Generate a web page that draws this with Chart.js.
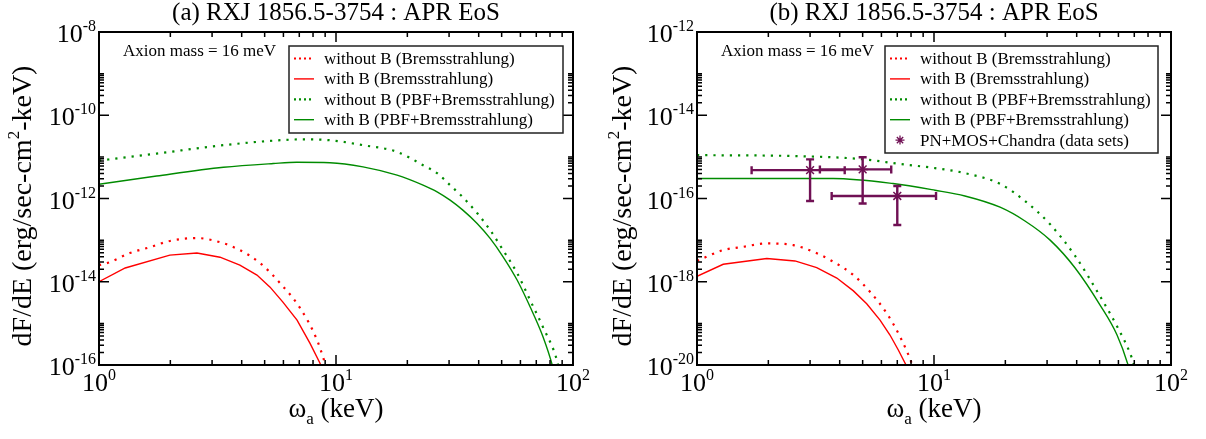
<!DOCTYPE html>
<html lang="en">
<head>
    <meta charset="UTF-8">
    <title>RXJ 1856.5-3754 : APR EoS</title>
    <script src="https://cdn.jsdelivr.net/npm/chart.js"></script>
    <style>
        body {
            margin: 0;
            background: #fff;
        }
        .panel {
            position: absolute;
            top: 0;
            width: 603px;
            height: 439px;
        }
    </style>
</head>
<body>
    <div class="panel" style="left:0"><canvas id="chartA" width="603" height="439"></canvas></div>
    <div class="panel" style="left:603px"><canvas id="chartB" width="603" height="439"></canvas></div>

    <script>
        // ---- panel (a) ----
        const xRedDotA = [1, 1.11, 1.35, 1.64, 1.99, 2.59, 3.24, 3.93, 4.78, 5.80, 7.05, 8.32, 8.99, 9.2];
        const yRedDotA = [2.51e-14, 2.95e-14, 4.90e-14, 6.76e-14, 9.55e-14, 1.12e-13, 8.91e-14, 5.75e-14, 2.82e-14, 9.33e-15, 2.34e-15, 3.98e-16, 1.10e-16, 7.4e-17];
        const xRedSolA = [1, 1.29, 1.99, 2.59, 3.24, 3.93, 4.64, 5.27, 5.97, 6.85, 7.77, 8.56, 8.8];
        const yRedSolA = [1.0e-14, 2.14e-14, 4.37e-14, 4.90e-14, 3.89e-14, 2.51e-14, 1.45e-14, 7.41e-15, 3.24e-15, 1.20e-15, 3.31e-16, 1.10e-16, 7e-17];
        const xGrnDotA = [1, 1.75, 3.35, 5.44, 7.2, 9.43, 13.0, 18.1, 23.3, 26.7, 30.3, 34.3, 39.4, 44.7, 50.7, 58.1, 65.9, 74.7, 85.5, 88];
        const yGrnDotA = [8.13e-12, 1.20e-11, 1.91e-11, 2.45e-11, 2.63e-11, 2.51e-11, 1.91e-11, 1.32e-11, 6.31e-12, 4.07e-12, 2.09e-12, 1.07e-12, 4.47e-13, 1.74e-13, 5.75e-14, 1.62e-14, 3.63e-15, 8.13e-16, 1.32e-16, 6.3e-17];
        const xGrnSolA = [1, 1.75, 3.35, 5.44, 6.83, 9.43, 13.0, 18.1, 23.3, 26.7, 30.3, 34.3, 39.4, 44.7, 50.7, 58.1, 65.9, 74.7, 81.9, 84];
        const yGrnSolA = [2.19e-12, 3.47e-12, 5.62e-12, 6.92e-12, 7.41e-12, 7.24e-12, 5.75e-12, 3.63e-12, 2.09e-12, 1.45e-12, 9.12e-13, 5.25e-13, 2.51e-13, 1.10e-13, 3.98e-14, 1.10e-14, 2.51e-15, 4.79e-16, 9.55e-17, 5.0e-17];

        // ---- panel (b) ----
        const xRedDotB = [1, 1.29, 1.57, 1.97, 2.55, 3.10, 3.76, 4.57, 5.37, 6.32, 7.19, 8.05, 8.3];
        const yRedDotB = [3.16e-18, 5.75e-18, 6.92e-18, 8.32e-18, 7.59e-18, 5.25e-18, 3.02e-18, 1.45e-18, 5.75e-19, 1.74e-19, 4.79e-20, 1.10e-20, 6.3e-21];
        const xRedSolB = [1, 1.29, 1.97, 2.59, 3.20, 3.89, 4.57, 5.20, 5.92, 6.52, 7.07, 7.62, 7.8];
        const yRedSolB = [1.35e-18, 2.63e-18, 3.63e-18, 3.16e-18, 2.19e-18, 1.23e-18, 6.03e-19, 2.95e-19, 1.20e-19, 5.25e-20, 2.29e-20, 1.0e-20, 6.3e-21];
        const xGrnDotB = [1, 2.5, 4.87, 7.19, 10.1, 13.5, 19.0, 24.2, 30.9, 39.4, 50.2, 59.2, 67.2, 69.8, 72];
        const yGrnDotB = [1.10e-15, 1.05e-15, 8.91e-16, 6.76e-16, 5.37e-16, 4.07e-16, 2.24e-16, 8.71e-17, 2.40e-17, 4.17e-18, 4.47e-19, 8.51e-20, 1.91e-20, 1.0e-20, 5e-21];
        const xGrnSolB = [1, 3.75, 6.71, 10.1, 13.5, 19.0, 24.2, 30.9, 39.4, 50.2, 59.2, 65.9, 68];
        const yGrnSolB = [3.02e-16, 3.02e-16, 2.29e-16, 1.58e-16, 1.15e-16, 6.17e-17, 2.88e-17, 1.0e-17, 2.14e-18, 2.75e-19, 5.25e-20, 1.0e-20, 5e-21];

        // PN+MOS+Chandra points with error bars
        const pnX = [3.0, 5.0, 7.0];
        const pnY = [4.8e-16, 5.0e-16, 1.15e-16];
        const pnXLow = [1.7, 3.3, 3.7];
        const pnXHigh = [4.2, 6.6, 10.2];
        const pnYLow = [8.7e-17, 7.6e-17, 2.3e-17];
        const pnYHigh = [8.7e-16, 9.8e-16, 2.0e-16];

        const labels = [
            "without B (Bremsstrahlung)",
            "with B (Bremsstrahlung)",
            "without B (PBF+Bremsstrahlung)",
            "with B (PBF+Bremsstrahlung)",
            "PN+MOS+Chandra (data sets)"
        ];

        const FONT = '"Liberation Serif", "Times New Roman", serif';
        const RED = "rgb(255,0,0)";
        const GREEN = "rgb(0,139,0)";
        const PURPLE = "rgb(112,16,84)";
        const DOTS = [2.2, 6];

        function pts(xs, ys) {
            return xs.map((x, i) => ({ x: x, y: ys[i] }));
        }

        function curve(label, xs, ys, color, dotted, smooth) {
            return {
                label: label,
                data: pts(xs, ys),
                showLine: true,
                borderColor: color,
                borderWidth: dotted ? 2.2 : 1.4,
                borderDash: dotted ? DOTS : [],
                pointRadius: 0,
                cubicInterpolationMode: smooth ? "monotone" : "default",
                tension: 0
            };
        }

        // draw a string made of [text, size, rise] parts
        function drawRich(ctx, parts, x, y, align) {
            let w = 0;
            parts.forEach(p => {
                ctx.font = p[1] + "px " + FONT;
                w += ctx.measureText(p[0]).width;
            });
            let cx = align === "center" ? x - w / 2 : (align === "right" ? x - w : x);
            ctx.textAlign = "left";
            ctx.textBaseline = "alphabetic";
            parts.forEach(p => {
                ctx.font = p[1] + "px " + FONT;
                ctx.fillText(p[0], cx, y - (p[2] || 0));
                cx += ctx.measureText(p[0]).width;
            });
        }

        function drawStar(ctx, x, y, r) {
            ctx.beginPath();
            for (let k = 0; k < 4; k++) {
                const a = k * Math.PI / 4;
                ctx.moveTo(x - r * Math.cos(a), y - r * Math.sin(a));
                ctx.lineTo(x + r * Math.cos(a), y + r * Math.sin(a));
            }
            ctx.stroke();
        }

        const decor = {
            id: "decor",
            afterDatasetsDraw(chart, args, opts) {
                if (!opts.errors) return;
                const ctx = chart.ctx, xs = chart.scales.x, ys = chart.scales.y;
                const e = opts.errors;
                ctx.save();
                ctx.strokeStyle = PURPLE;
                ctx.lineWidth = 2.4;
                e.x.forEach((v, i) => {
                    const px = xs.getPixelForValue(v), py = ys.getPixelForValue(e.y[i]);
                    const x0 = xs.getPixelForValue(e.xLow[i]), x1 = xs.getPixelForValue(e.xHigh[i]);
                    const y0 = ys.getPixelForValue(e.yLow[i]), y1 = ys.getPixelForValue(e.yHigh[i]);
                    ctx.beginPath();
                    ctx.moveTo(x0, py); ctx.lineTo(x1, py);
                    ctx.moveTo(x0, py - 4); ctx.lineTo(x0, py + 4);
                    ctx.moveTo(x1, py - 4); ctx.lineTo(x1, py + 4);
                    ctx.moveTo(px, y0); ctx.lineTo(px, y1);
                    ctx.moveTo(px - 4, y0); ctx.lineTo(px + 4, y0);
                    ctx.moveTo(px - 4, y1); ctx.lineTo(px + 4, y1);
                    ctx.stroke();
                });
                ctx.restore();
            },
            afterDraw(chart, args, opts) {
                const ctx = chart.ctx, a = chart.chartArea;
                const xs = chart.scales.x, ys = chart.scales.y;
                ctx.save();
                ctx.fillStyle = "#000";
                ctx.strokeStyle = "#000";

                // ticks on all four sides, pointing inward
                ctx.lineWidth = 1.5;
                ctx.beginPath();
                const x0 = Math.round(Math.log10(xs.min)), x1 = Math.round(Math.log10(xs.max));
                for (let e = x0; e <= x1; e++) {
                    const px = xs.getPixelForValue(Math.pow(10, e));
                    ctx.moveTo(px, a.bottom); ctx.lineTo(px, a.bottom - 10);
                    ctx.moveTo(px, a.top); ctx.lineTo(px, a.top + 10);
                    if (e === x1) continue;
                    for (let k = 2; k <= 9; k++) {
                        const q = xs.getPixelForValue(k * Math.pow(10, e));
                        ctx.moveTo(q, a.bottom); ctx.lineTo(q, a.bottom - 5);
                        ctx.moveTo(q, a.top); ctx.lineTo(q, a.top + 5);
                    }
                }
                const y0 = Math.round(Math.log10(ys.min)), y1 = Math.round(Math.log10(ys.max));
                for (let e = y0; e <= y1; e += 2) {
                    const py = ys.getPixelForValue(Math.pow(10, e));
                    ctx.moveTo(a.left, py); ctx.lineTo(a.left + 10, py);
                    ctx.moveTo(a.right, py); ctx.lineTo(a.right - 10, py);
                    if (e === y1) continue;
                    for (let k = 2; k <= 10; k++) {
                        const q = ys.getPixelForValue(k * Math.pow(10, e));
                        ctx.moveTo(a.left, q); ctx.lineTo(a.left + 5, q);
                        ctx.moveTo(a.right, q); ctx.lineTo(a.right - 5, q);
                    }
                }
                ctx.stroke();

                // frame
                ctx.lineWidth = 2;
                ctx.strokeRect(a.left, a.top, a.right - a.left, a.bottom - a.top);

                // tick labels
                for (let e = x0; e <= x1; e++) {
                    const px = xs.getPixelForValue(Math.pow(10, e));
                    drawRich(ctx, [["10", 26], [String(e), 16, 11]], px, a.bottom + 26, "center");
                }
                for (let e = y0; e <= y1; e += 2) {
                    const py = ys.getPixelForValue(Math.pow(10, e));
                    drawRich(ctx, [["10", 26], [String(e), 16, 11]], a.left - 3, py + 10, "right");
                }

                // title and axis titles
                const cx = (a.left + a.right) / 2;
                drawRich(ctx, [[opts.title, 25]], cx, 20, "center");
                drawRich(ctx, [["\u03c9", 27], ["a", 17, -7], [" (keV)", 27]], cx, a.bottom + 52, "center");
                ctx.save();
                ctx.translate(opts.yTitleX, 206);
                ctx.rotate(-Math.PI / 2);
                drawRich(ctx, [["dF/dE (erg/sec-cm", 28], ["2", 17, 12], ["-keV)", 28]], 0, 9, "center");
                ctx.restore();

                // annotation
                drawRich(ctx, [["Axion mass = 16 meV", 17]], a.left + 24, 56, "left");

                // legend
                const L = opts.legend;
                const rows = chart.data.datasets.filter(d => d.label);
                ctx.fillStyle = "#fff";
                ctx.fillRect(L.x, L.y, L.w, L.h);
                ctx.lineWidth = 1.5;
                ctx.strokeStyle = "#222";
                ctx.strokeRect(L.x, L.y, L.w, L.h);
                rows.forEach((d, i) => {
                    const ry = L.y + 12.5 + i * 20.4;
                    ctx.strokeStyle = d.borderColor;
                    if (d.showLine) {
                        ctx.lineWidth = d.borderWidth;
                        ctx.setLineDash(d.borderDash.length ? [2, 3] : []);
                        ctx.beginPath();
                        ctx.moveTo(L.x + 5, ry); ctx.lineTo(L.x + 25, ry);
                        ctx.stroke();
                        ctx.setLineDash([]);
                    } else {
                        ctx.lineWidth = 1.3;
                        drawStar(ctx, L.x + 15, ry, 4.5);
                    }
                    ctx.fillStyle = "#000";
                    drawRich(ctx, [[d.label, 17]], L.x + 35, ry + 5.5, "left");
                });
                ctx.restore();
            }
        };

        function makeChart(id, datasets, yMin, yMax, pad, opts) {
            return new Chart(document.getElementById(id), {
                type: "scatter",
                data: { datasets: datasets },
                options: {
                    responsive: false,
                    devicePixelRatio: 1,
                    animation: false,
                    layout: { padding: pad },
                    scales: {
                        x: { type: "logarithmic", min: 1, max: 100, display: false },
                        y: { type: "logarithmic", min: yMin, max: yMax, display: false }
                    },
                    plugins: {
                        legend: { display: false },
                        tooltip: { enabled: false },
                        decor: opts
                    }
                },
                plugins: [decor]
            });
        }

        makeChart("chartA", [
            curve(labels[0], xRedDotA, yRedDotA, RED, true, true),
            curve(labels[1], xRedSolA, yRedSolA, RED, false, false),
            curve(labels[2], xGrnDotA, yGrnDotA, GREEN, true, true),
            curve(labels[3], xGrnSolA, yGrnSolA, GREEN, false, true)
        ], 1e-16, 1e-8, { left: 99, right: 30, top: 32, bottom: 74 }, {
            title: "(a) RXJ 1856.5-3754 : APR EoS",
            yTitleX: 22,
            legend: { x: 289, y: 46, w: 274, h: 87 }
        });

        makeChart("chartB", [
            curve(labels[0], xRedDotB, yRedDotB, RED, true, true),
            curve(labels[1], xRedSolB, yRedSolB, RED, false, false),
            curve(labels[2], xGrnDotB, yGrnDotB, GREEN, true, true),
            curve(labels[3], xGrnSolB, yGrnSolB, GREEN, false, true),
            {
                label: labels[4],
                data: pts(pnX, pnY),
                showLine: false,
                borderColor: PURPLE,
                backgroundColor: PURPLE,
                borderWidth: 1.5,
                pointStyle: "star",
                pointRadius: 5.5
            }
        ], 1e-20, 1e-12, { left: 94, right: 35, top: 32, bottom: 74 }, {
            title: "(b) RXJ 1856.5-3754 : APR EoS",
            yTitleX: 19,
            legend: { x: 282, y: 46, w: 273, h: 107 },
            errors: { x: pnX, y: pnY, xLow: pnXLow, xHigh: pnXHigh, yLow: pnYLow, yHigh: pnYHigh }
        });
    </script>
</body>
</html>
